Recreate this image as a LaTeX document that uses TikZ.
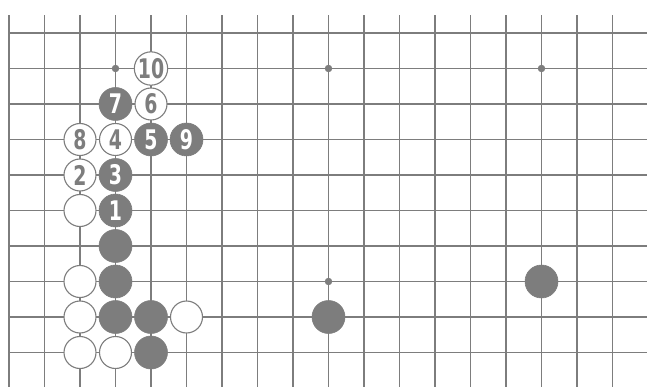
\documentclass[tikz,border=0pt]{standalone}
\usepackage{fontspec}
\usetikzlibrary{backgrounds}
\newfontfamily\numfont[FakeStretch=0.7]{DejaVu Sans}
\definecolor{ink}{HTML}{7D7D7D}
\begin{document}
\begin{tikzpicture}[x=35.5pt,y=-35.5pt,
  gridline/.style={draw=ink,line width=1.4pt},
  edgeline/.style={draw=ink,line width=2.6pt},
  numtext/.style={font=\numfont\bfseries\fontsize{27}{27}\selectfont},
  blk/.style={circle,fill=ink,draw=ink,line width=0.6pt,minimum size=33pt,inner sep=0pt,text=white,numtext},
  wht/.style={circle,fill=white,draw=ink,line width=1.1pt,minimum size=32pt,inner sep=0pt,text=ink,numtext},
  hoshi/.style={circle,fill=ink,minimum size=7.5pt,inner sep=0pt}]
\useasboundingbox (-9pt,33pt) rectangle (638pt,-354pt);
\clip (-9pt,33pt) rectangle (638pt,-354pt);
% numbered stones
\node[blk] (s1) at (3,5) {1};
\node[wht] (s2) at (2,4) {2};
\node[blk] (s3) at (3,4) {3};
\node[wht] (s4) at (3,3) {4};
\node[blk] (s5) at (4,3) {5};
\node[wht] (s6) at (4,2) {6};
\node[blk] (s7) at (3,2) {7};
\node[wht] (s8) at (2,3) {8};
\node[blk] (s9) at (5,3) {9};
\node[wht] (s10) at (4,1) {10};
% other stones
\node[wht] (w1) at (2,5) {};
\node[blk] (b1) at (3,6) {};
\node[wht] (w2) at (2,7) {};
\node[blk] (b2) at (3,7) {};
\node[wht] (w3) at (2,8) {};
\node[blk] (b3) at (3,8) {};
\node[blk] (b4) at (4,8) {};
\node[wht] (w4) at (5,8) {};
\node[wht] (w5) at (2,9) {};
\node[wht] (w6) at (3,9) {};
\node[blk] (b5) at (4,9) {};
\node[blk] (b6) at (9,8) {};
\node[blk] (b7) at (15,7) {};
% star points
\node[hoshi] (h1) at (3,1) {};
\node[hoshi] (h2) at (9,1) {};
\node[hoshi] (h3) at (15,1) {};
\node[hoshi] (h4) at (9,7) {};
\begin{scope}[on background layer]
\foreach \c in {1,...,18} \draw[gridline] (\c,-0.5) -- (\c,10.2);
\foreach \r in {0,...,9} \draw[gridline] (0,\r) -- (18.5,\r);
\draw[edgeline] (0,-0.5) -- (0,10.2);
\end{scope}
\end{tikzpicture}
\end{document}
